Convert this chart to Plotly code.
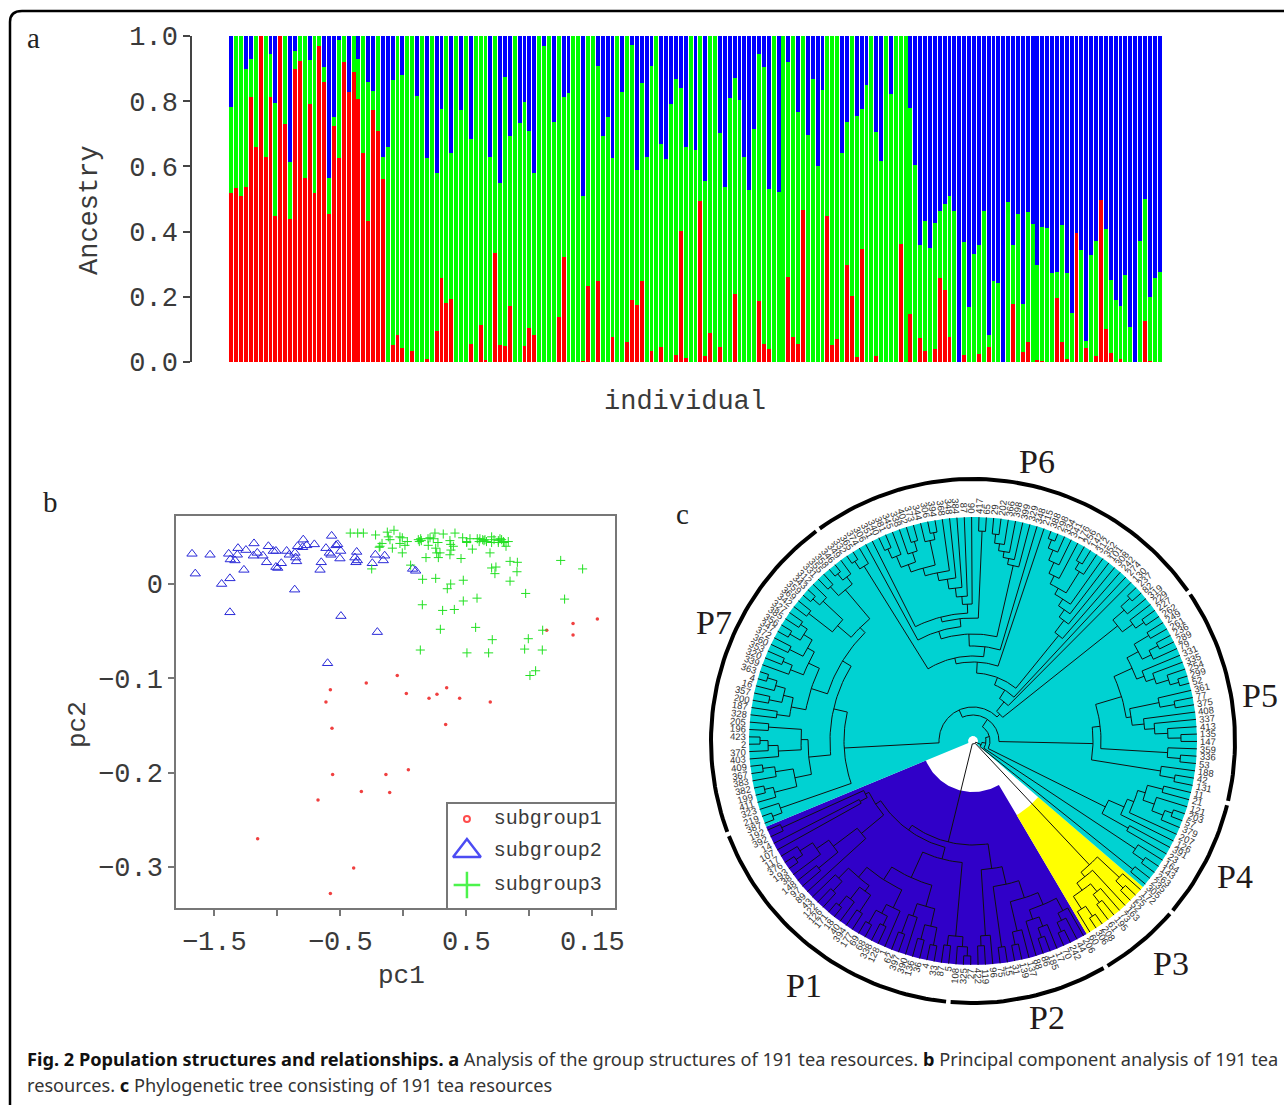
import math
import plotly.graph_objects as go

W, H = 1284, 1105
MONO = "Liberation Mono"
SERIF = "Liberation Serif"
INK = "#3a3a3a"

# ---------- panel a: ancestry of the 191 individuals ----------
red_share = [.518,.533,.51,.536,.814,.659,1,.628,.814,.448,1,.73,.438,.9,.923,.565,.792,.518,.97,.858,
 .455,.725,.625,.921,.827,.889,.806,.64,.431,.773,.71,.561,0,.052,.084,.043,0,.034,0,0,
 .009,0,.096,.257,.181,.193,0,0,0,.056,0,.115,.007,0,.333,.052,.05,.173,0,0,
 .05,.105,.084,0,0,0,0,.137,.323,0,0,0,.003,.234,0,.25,0,0,.078,0,
 0,.061,.191,.175,.249,0,.034,0,.047,0,0,.022,.402,.013,0,0,.494,.017,.088,0,
 .047,0,0,.21,0,0,0,0,.188,.056,.041,0,0,0,.261,.077,.054,.465,0,0,
 0,0,.449,.053,.072,0,.297,.202,.014,.347,0,0,.019,0,0,0,0,.363,0,.147,
 0,.073,.035,0,.039,.257,.222,.078,0,0,.021,0,0,.025,0,.047,0,0,0,0,
 .179,0,.031,.062,0,.007,.002,0,0,.196,.061,.008,0,.395,0,.043,0,.019,.497,.102,
 .028,0,.009,0,0,0,0,.125,.003,0,0]
green_top = [.781,1,1,.898,.928,1,1,1,.944,.796,1,1,.613,.955,1,1,.926,1,1,.904,
 .564,.751,.988,1,.827,1,.928,1,.858,.832,1,.63,.661,.865,1,.88,1,1,.816,1,
 .626,1,.579,.776,1,.64,1,.773,1,.684,1,1,1,.63,1,.55,.875,.694,1,.732,
 .798,.709,.581,1,.97,1,.737,1,.814,.824,1,1,.508,1,1,.909,.692,.751,.626,1,
 .828,1,.972,.589,.855,.628,.908,1,.669,.622,.792,.867,.84,.659,1,.649,1,.554,1,1,
 .702,.537,.811,.87,.804,.63,.528,.714,.945,.904,.531,1,.52,1,.921,1,.768,1,.695,.868,
 .6,.835,1,1,1,.64,.736,1,.755,.776,.85,1,.705,.617,1,.822,1,1,1,.778,
 .605,.358,.433,.351,.426,.464,.484,.51,.463,0,.369,.168,.33,.359,.463,.083,.248,.242,0,.49,
 .358,.455,.177,.46,.424,.297,.414,.411,.273,.277,.421,.273,.15,.395,.345,.065,.328,.37,.497,.409,
 .252,.189,.173,.268,.106,0,.371,.5,.2,.257,.276]
individual = list(range(1, len(red_share) + 1))
ancestry_ticks = [0, .2, .4, .6, .8, 1]
ancestry_tick_text = ["0.0", "0.2", "0.4", "0.6", "0.8", "1.0"]

# ---------- panel b: principal components ----------
sub1_pc1 = [-1.156,-.394,-.579,-.677,-.561,-.333,-.138,-.108,.040,-.566,-.614,-.579,-.294,-.048,.024,.204,.267,.344,.447,.690,.336,1.138,1.347,1.347,1.540]
sub1_pc2 = [-.270,-.301,-.328,-.229,-.202,-.220,-.202,-.221,-.197,-.153,-.125,-.112,-.105,-.097,-.116,-.121,-.117,-.110,-.121,-.125,-.149,-.049,-.042,-.054,-.037]
sub2_pc1 = [-1.677,-1.534,-1.651,-1.442,-1.376,-1.386,-1.373,-1.336,-1.317,-1.312,-1.249,-1.265,-1.185,-1.190,-1.159,-1.114,-1.071,-1.085,-1.032,-1.011,-1.011,-.997,-.968,-.926,-.905,-.860,-.854,-.847,-.839,-.794,-.799,-.767,-.706,-.862,-1.376,-.661,-.651,-.614,-.587,-.574,-.569,-.534,-.521,-.497,-.503,-.495,-.370,-.384,-.365,-.376,-.246,-.222,-.159,-.148,-.206,-.601,.074,.098]
sub2_pc2 = [.032,.031,.011,0,.006,.032,.026,.025,.031,.038,.036,.015,.043,.030,.033,.030,.040,.023,.035,.035,.018,.017,.022,.035,.031,.033,.028,.024,.040,.047,.039,.041,.042,-.006,-.030,.015,.023,.038,.033,.031,.051,.041,.042,.035,.027,-.034,.034,.028,.025,.023,.022,.031,.025,.030,-.051,-.084,.016,.014]
sub3_pc1 = [-.421,-.362,-.317,-.220,-.251,-.185,-.169,-.127,-.074,-.119,-.106,-.087,-.027,-.008,-.027,-.008,.013,.032,.058,.119,.138,.127,.212,.251,.238,.198,.180,.257,.291,.265,.278,.317,.370,.410,.397,.378,.370,.458,.471,.503,.548,.529,.587,.608,.630,.648,.701,.701,.688,.767,.754,.794,.815,.833,.701,.735,.727,.847,.905,.902,.847,1.249,1.423,1.280,.971,.476,.257,.153,.376,.349,.151,.312,.405,.476,.585,.294,.574,.706,.135,.505,.677,.963,.992,1.103,1.106,1.050,1.005,-.191,.143,.196,.275,.376,.503,.602,.754,.80,.64,.66,.72,.78]
sub3_pc2 = [.054,.054,.054,.052,.016,.040,.043,.055,.057,.050,.047,.038,.050,.049,.043,.033,.041,.045,.020,.047,.048,.045,.049,.054,.048,.041,.028,.038,.033,.033,.028,.053,.046,.054,.040,.036,.031,.027,.049,.045,.037,.048,.048,.048,.047,.047,.050,.044,.033,.048,.044,.045,.040,.045,.017,.018,.011,.024,.023,.013,.003,.025,.016,-.016,-.010,.004,.006,.005,0,-.005,-.022,-.028,-.027,-.018,-.015,-.048,-.046,-.059,-.070,-.073,-.073,-.069,-.058,-.070,-.049,-.092,-.097,.039,.046,.048,.044,.042,.044,.045,.046,.044,.046,.045,.047,.047]
pc1_ticks = [-1.5, -1, -.5, 0, .5, 1, 1.5]
pc1_tick_text = ["\u22121.5", "", "\u22120.5", "", "0.5", "", "0.15"]
pc2_ticks = [0, -.1, -.2, -.3]
pc2_tick_text = ["0", "\u22120.1", "\u22120.2", "\u22120.3"]
legend_names = ["subgroup1", "subgroup2", "subgroup3"]

# ---------- panel c: phylogenetic tree (node = (depth, children...), 0 = tip) ----------
TIP = 224
tree_blue = (104,
    (110,
        (116,
            (120, (210, 0, 0), (128, 0, 0)),
            (145, (175, (190, (205, 0, (213, 0, 0)), 0), (200, 0, 0)), 0)),
        (122,
            (150,
                (165, (178, (192, 0, (205, 0, 0)), (185, (200, (212, 0, 0), 0), (205, 0, 0))),
                      (185, (195, (210, 0, 0), (205, 0, 0)), 0)),
                (172, (185, (205, 0, 0), 0), (190, (205, 0, 0), (208, 0, 0)))),
            (196, (206, 0, 0), (206, 0, (215, 0, 0))))),
    (129,
        (195, (205, 0, 0), 0),
        (147, (208, 0, 0),
            (165, (195, (208, 0, 0), 0),
                (178, (188, 0, (198, (208, 0, 0), 0)), (192, (200, (210, 0, 0), 0), 0))))))
tree_yellow = (170,
    (176, (185, (200, 0, (212, 0, 0)), (195, (205, 0, 0), 0)), 0),
    (200, (210, 0, 0), 0))
branch_p4a = (205, 0, 0)
branch_p4b = (195, (208, 0, 0), 0)
branch_p4c = (148, (178, 0, 0),
    (165, 0, (172, 0, (180, (192, (204, 0, (212, 0, 0)), 0), (196, 0, 0)))))
branch_p5 = (120,
    (190, (205, 0, 0), 0),
    (128, (195, (208, 0, 0), 0),
        (155,
            (160, (172, (182, (195, (208, 0, 0), 0), 0), 0), (190, (205, 0, 0), 0)),
            (175, (183, (192, (205, (214, 0, 0), 0), 0), 0),
                  (188, (198, 0, (208, 0, 0)), (205, 0, 0))))))
branch_p6 = (38,
    (185, (198, (208, 0, 0), 0), (200, 0, (212, 0, 0))),
    (50, 0, (60, 0, (68,
        (136, 0, (151, 0, (160, 0, (168, 0, (175, (200, 0, (208, 0, 0)), (184, 0, (196, 0, (207, 0, (216, 0, 0))))))))),
        (79, 0, (85,
            (95, 0, (107,
                (180, 0, (186, 0, (192, 0, (199, 0, (208, 0, 0))))),
                (115,
                    (123, (210, 0, 0),
                        (128,
                            (137, 0, (145, 0, (154, 0, (164, 0, (172, 0,
                                (180, (205, (212, 0, 0), 0),
                                      (188, (198, (208, 0, 0), 0), (200, 0, (210, 0, 0))))))))),
                            0)),
                    0))),
            (206, 0, (215, 0, 0))))))))
branch_p7 = (129,
    (143,
        (153,
            (160, (198, (207, 0, (215, 0, 0)), (210, 0, 0)),
                  (178, (205, 0, (214, 0, 0)), (208, 0, 0))),
            (170, (182, (190, (200, (208, 0, 0), (212, 0, 0)), (205, 0, 0)), (196, (206, 0, 0), 0)),
                  (185, (195, (205, (215, 0, 0), 0), (208, 0, 0)), (198, 0, 0)))),
        (165, (172, (205, 0, 0), (195, (205, (213, 0, 0), 0), 0)),
              (182, (200, (212, 0, 0), 0), (205, (214, 0, 0), 0)))),
    (204, 0, (214, 0, 0)))
tree_teal = (9, branch_p4a, (13, branch_p4b, (17, branch_p4c, (26, branch_p5, (34, branch_p6, branch_p7)))))
tree_root = (3, tree_blue, tree_yellow, tree_teal)

tip_labels = """192 392 14 107 117 376 193 38 148 97
89 43 122 126 171 18 40 394 177 69
68 338 128 1 62 397 390 136 36 4
33 87 5 108 325 27 422 119 96 75
15 31 139 137 88 86 185 17 70 242
44 206
60 306 208 61 195 73 163 52 25 172
305 235 263 143 164 23 391 126 207 379 57 203 121 21 11
131 42 188 53 336 359 147 135 413 337 408 375 77 361 52 299 254 335 331 79 289 236 261 249
262 227 229 319 82 237 130 274 242 308
101 352 312 142 256 176 341 334 298 388
215 348 329 399 398 366 202 29 65 417
90 87 384 348 368 394 306 344 373 402
338 345 381 340 351 306 374 365 332
349 346 358 355 331 312 343 359 369 342
327 385 356 347 372 360 353 320 339 363
4 16 357 200 187 328 205 196 423 2 370 403
409 367 383 382 199 411 323 219 387""".split()

ring_names = ["P1", "P2", "P3", "P4", "P5", "P6", "P7"]
ring_start = [200.8, 264.6, 300.4, 319.2, 346.3, 34.5, 126.3]
ring_end = [264.6, 300.4, 319.2, 346.3, 394.5, 126.3, 200.8]
ring_label_px = [(804, 985), (1047, 1017), (1171, 963), (1235, 876), (1260, 695), (1037, 461), (714, 622)]
RING_R = 262
TREE_START = 202.5


# ---------- helpers ----------
def fx(p):
    return p / W


def fy(p):
    return 1 - p / H


def pol(r, deg):
    a = math.radians(deg)
    return r * math.cos(a), r * math.sin(a)


def arc_points(r, a0, a1):
    n = max(2, int(abs(a1 - a0) / 1.5) + 2)
    return [pol(r, a0 + (a1 - a0) * i / (n - 1)) for i in range(n)]


def count_tips(node):
    return 1 if node == 0 else sum(count_tips(c) for c in node[1:])


step = 360 / len(tip_labels)
assert count_tips(tree_root) == len(tip_labels) == 191, (count_tips(tree_root), len(tip_labels))

tx, ty = [], []
tip_angles = []


def add_line(points):
    for x, y in points:
        tx.append(x)
        ty.append(y)
    tx.append(None)
    ty.append(None)


def lay_out(node):
    if node == 0:
        ang = TREE_START + (len(tip_angles) + .5) * step
        tip_angles.append(ang)
        return ang, TIP
    kids = [lay_out(c) for c in node[1:]]
    r = node[0]
    add_line(arc_points(r, kids[0][0], kids[-1][0]))
    for ang, rk in kids:
        add_line([pol(r, ang), pol(rk, ang)])
    return (kids[0][0] + kids[-1][0]) / 2, r


lay_out(tree_root)

fig = go.Figure()

# panel a
fig.add_bar(x=individual, y=red_share, marker_color="#ff0000", marker_line_width=0, name="red", xaxis="x", yaxis="y")
fig.add_bar(x=individual, y=[t - r for t, r in zip(green_top, red_share)], marker_color="#00ff00", marker_line_width=0, name="green", xaxis="x", yaxis="y")
fig.add_bar(x=individual, y=[1 - t for t in green_top], marker_color="#0000ff", marker_line_width=0, name="blue", xaxis="x", yaxis="y")

# panel b
fig.add_scatter(x=sub1_pc1, y=sub1_pc2, mode="markers", name=legend_names[0], xaxis="x2", yaxis="y2",
                marker=dict(symbol="circle", size=3.5, color="#f04040"))
fig.add_scatter(x=sub2_pc1, y=sub2_pc2, mode="markers", name=legend_names[1], xaxis="x2", yaxis="y2",
                marker=dict(symbol="triangle-up-open", size=9, color="#2a2ad8", line=dict(width=1, color="#2a2ad8")))
fig.add_scatter(x=sub3_pc1, y=sub3_pc2, mode="markers", name=legend_names[2], xaxis="x2", yaxis="y2",
                marker=dict(symbol="cross-thin-open", size=6.5, color="#22e022", line=dict(width=1, color="#22e022")))

# hand-built legend box of panel b
leg_y = [.853, .546, .22]
fig.add_scatter(x=[.115] * 3, y=leg_y, mode="markers", xaxis="x3", yaxis="y3", hoverinfo="skip",
                marker=dict(symbol=["circle-open", "triangle-up-open", "cross-thin-open"], size=[6, 24, 19],
                            color=["#ff0000", "#0000ee", "#00ee00"],
                            line=dict(width=[2, 2.5, 2.5], color=["#ff0000", "#0000ee", "#00ee00"])))
fig.add_scatter(x=[.275] * 3, y=leg_y, mode="text", text=legend_names, textposition="middle right",
                textfont=dict(family=MONO, size=20, color=INK), xaxis="x3", yaxis="y3", hoverinfo="skip")

# panel c wedges
n_blue, n_yellow, n_teal = count_tips(tree_blue), count_tips(tree_yellow), count_tips(tree_teal)
a0 = TREE_START
a1 = a0 + n_blue * step
a2 = a1 + n_yellow * step
a3 = a2 + n_teal * step
for start, end, rin, col in [(a0, a1, 51, "#3000c8"), (a1, a2, 86, "#ffff00"), (a2, a3, 5, "#00d2d2")]:
    pts = arc_points(TIP, start, end) + arc_points(rin, end, start)
    pts.append(pts[0])
    fig.add_scatter(x=[p[0] for p in pts], y=[p[1] for p in pts], mode="lines", fill="toself", fillcolor=col,
                    line=dict(width=0, color=col), xaxis="x4", yaxis="y4", hoverinfo="skip")
fig.add_scatter(x=tx, y=ty, mode="lines", line=dict(color="#101010", width=1), xaxis="x4", yaxis="y4", hoverinfo="skip")
rx, ry = [], []
for s, e in zip(ring_start, ring_end):
    for x, y in arc_points(RING_R, s + .5, e - .5):
        rx.append(x)
        ry.append(y)
    rx.append(None)
    ry.append(None)
fig.add_scatter(x=rx, y=ry, mode="lines", line=dict(color="#000000", width=4), xaxis="x4", yaxis="y4", hoverinfo="skip")

annotations = []
for lab, ang in zip(tip_labels, tip_angles):
    rl = TIP + 3 + len(lab) * 2.8
    x, y = pol(rl, ang)
    right = math.cos(math.radians(ang)) > 0
    annotations.append(dict(x=x, y=y, xref="x4", yref="y4", text=lab, showarrow=False,
                            textangle=-ang if right else 180 - ang,
                            font=dict(family="Liberation Sans", size=9.5, color="#333333"),
                            xanchor="center", yanchor="middle", borderpad=0, borderwidth=0))
for name, (px, py) in zip(ring_names, ring_label_px):
    annotations.append(dict(x=fx(px), y=fy(py), xref="paper", yref="paper", text=name, showarrow=False,
                            font=dict(family=SERIF, size=34, color="#221a1a"), xanchor="center", yanchor="middle"))
for letter, px, py in [("a", 33, 38), ("b", 50, 502), ("c", 682, 514)]:
    annotations.append(dict(x=fx(px), y=fy(py), xref="paper", yref="paper", text=letter, showarrow=False,
                            font=dict(family=SERIF, size=29, color="#222222"), xanchor="center", yanchor="middle"))
# axis captions sit off-centre from their axes in the reference, so they are placed individually
for text, px, py, angle, size in [("individual", 685, 402, 0, 27), ("Ancestry", 90, 210, -90, 27),
                                  ("pc1", 401, 976, 0, 26), ("pc2", 78, 725, -90, 26)]:
    annotations.append(dict(x=fx(px), y=fy(py), xref="paper", yref="paper", text=text, showarrow=False, textangle=angle,
                            font=dict(family=MONO, size=size, color=INK), xanchor="center", yanchor="middle"))
CAP = "Noto Sans"
annotations.append(dict(x=fx(25), y=fy(1059), xref="paper", yref="paper", showarrow=False, xanchor="left", yanchor="middle",
                        font=dict(family=CAP, size=18.2, color="#333333"),
                        text="<b style='color:#111'>Fig. 2 Population structures and relationships. a</b> Analysis of the group structures of 191 tea resources. "
                             "<b style='color:#111'>b</b> Principal component analysis of 191 tea"))
annotations.append(dict(x=fx(25), y=fy(1085), xref="paper", yref="paper", showarrow=False, xanchor="left", yanchor="middle",
                        font=dict(family=CAP, size=18.2, color="#333333"),
                        text="resources. <b style='color:#111'>c</b> Phylogenetic tree consisting of 191 tea resources"))

frame = dict(type="path", xref="paper", yref="paper",
             path=f"M {fx(10)},{fy(1105)} L {fx(10)},{fy(22)} Q {fx(10)},{fy(11)} {fx(22)},{fy(11)} L {fx(1284)},{fy(11)}",
             line=dict(color="#000000", width=2.5))

mono_tick = dict(family=MONO, size=27, color=INK)
fig.update_layout(
    width=W, height=H, margin=dict(l=0, r=0, t=0, b=0, autoexpand=False), autosize=False,
    paper_bgcolor="white", plot_bgcolor="white", showlegend=False,
    barmode="stack", bargap=.2,
    shapes=[frame], annotations=annotations,
    xaxis=dict(domain=[fx(229), fx(1162)], range=[.5, 191.5], showticklabels=False, ticks="", showgrid=False,
               zeroline=False, showline=False, anchor="y"),
    yaxis=dict(domain=[fy(362), fy(36)], range=[0, 1], tickvals=ancestry_ticks, ticktext=ancestry_tick_text,
               tickfont=mono_tick, ticks="outside", ticklen=7, tickwidth=1.5, tickcolor="#444", showline=True,
               linecolor="#444", linewidth=1.5, showgrid=False, zeroline=False, anchor="free", position=fx(191)),
    xaxis2=dict(domain=[fx(176), fx(615)], range=[-1.804, 1.68], tickvals=pc1_ticks, ticktext=pc1_tick_text,
                tickfont=mono_tick, ticks="outside", ticklen=6, tickwidth=1.5, tickcolor="#777", showline=True,
                mirror=True, linecolor="#777", linewidth=1.5, showgrid=False, zeroline=False, anchor="y2",
                ticklabelstandoff=2),
    yaxis2=dict(domain=[fy(908), fy(516)], range=[-.3435, .0721], tickvals=pc2_ticks, ticktext=pc2_tick_text,
                tickfont=mono_tick, ticks="outside", ticklen=6, tickwidth=1.5, tickcolor="#777", showline=True,
                mirror=True, linecolor="#777", linewidth=1.5, showgrid=False, zeroline=False, anchor="x2"),
    xaxis3=dict(domain=[fx(447.7), fx(615)], range=[0, 1], visible=True, showticklabels=False, ticks="", showgrid=False,
                zeroline=False, showline=True, mirror=True, linecolor="#777", linewidth=1.5, anchor="y3"),
    yaxis3=dict(domain=[fy(908), fy(803.7)], range=[0, 1], showticklabels=False, ticks="", showgrid=False,
                zeroline=False, showline=True, mirror=True, linecolor="#777", linewidth=1.5, anchor="x3"),
    xaxis4=dict(domain=[fx(692), fx(1254)], range=[-281, 281], visible=False, anchor="y4"),
    yaxis4=dict(domain=[fy(1022), fy(460)], range=[-281, 281], visible=False, anchor="x4"),
)

fig.write_html("out.html", config={"displayModeBar": False},
               post_script="document.body.style.margin='0';document.documentElement.style.overflow='hidden';")
